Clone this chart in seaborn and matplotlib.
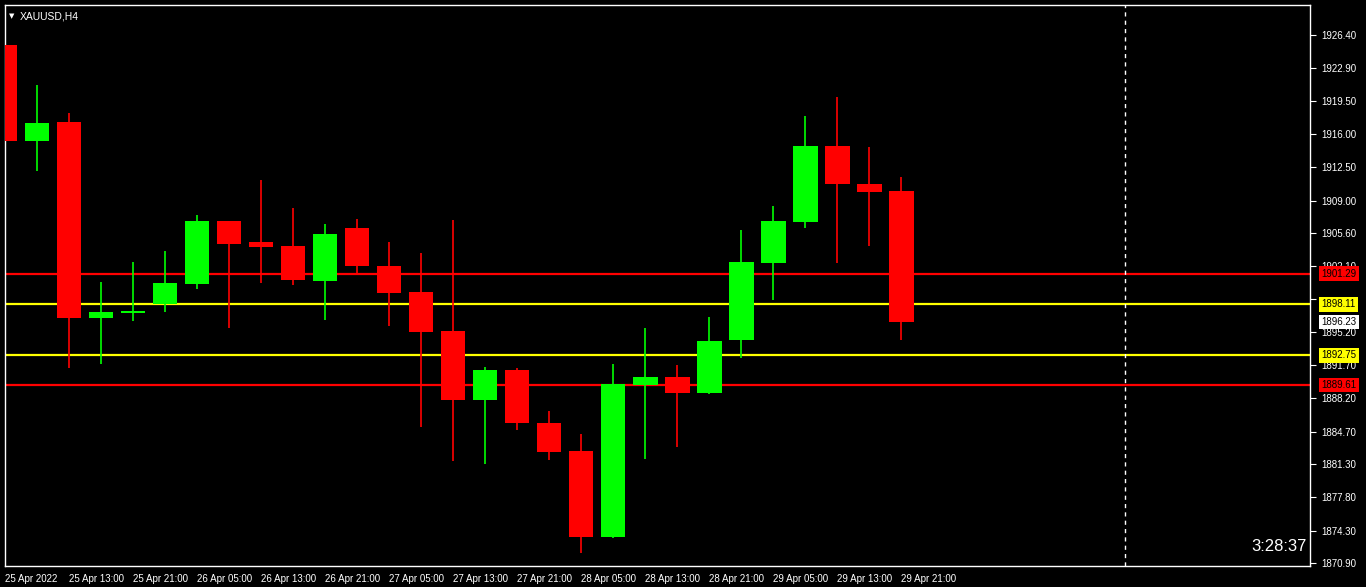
import seaborn as sns
import matplotlib
matplotlib.use("Agg")
import matplotlib.pyplot as plt
import matplotlib.transforms as mtransforms
import numpy as np

# XAUUSD H4 candles
opens  = [1925.35, 1915.29, 1917.26, 1896.69, 1897.18, 1898.13, 1900.26, 1906.85, 1904.64, 1904.22,
          1900.57, 1906.11, 1902.12, 1899.39, 1895.29, 1888.04, 1891.19, 1885.62, 1882.67, 1873.67,
          1889.61, 1890.45, 1888.80, 1894.37, 1902.47, 1906.78, 1914.73, 1910.74, 1910.00]
highs  = [1926.61, 1921.14, 1918.20, 1900.44, 1902.54, 1903.70, 1907.48, 1906.90, 1911.16, 1908.22,
          1906.53, 1907.06, 1904.64, 1903.49, 1906.95, 1891.50, 1891.40, 1886.88, 1884.46, 1891.82,
          1895.60, 1891.71, 1896.76, 1905.90, 1908.43, 1917.89, 1919.88, 1914.63, 1911.47]
lows   = [1913.08, 1912.14, 1891.43, 1891.85, 1896.37, 1897.29, 1899.73, 1895.64, 1900.37, 1900.15,
          1896.48, 1901.42, 1895.84, 1885.20, 1881.66, 1881.31, 1884.88, 1881.76, 1871.99, 1873.56,
          1881.87, 1883.13, 1888.70, 1892.48, 1898.58, 1906.15, 1902.47, 1904.25, 1894.37]
closes = [1915.29, 1917.15, 1896.69, 1897.29, 1897.39, 1900.33, 1906.85, 1904.46, 1904.15, 1900.68,
          1905.48, 1902.15, 1899.31, 1895.21, 1888.04, 1891.19, 1885.65, 1882.60, 1873.67, 1889.72,
          1890.45, 1888.77, 1894.24, 1902.54, 1906.85, 1914.73, 1910.77, 1909.93, 1896.23]

time_labels = ["25 Apr 2022", "25 Apr 13:00", "25 Apr 21:00", "26 Apr 05:00", "26 Apr 13:00",
               "26 Apr 21:00", "27 Apr 05:00", "27 Apr 13:00", "27 Apr 21:00", "28 Apr 05:00",
               "28 Apr 13:00", "28 Apr 21:00", "29 Apr 05:00", "29 Apr 13:00", "29 Apr 21:00"]
price_ticks = [1926.40, 1922.90, 1919.50, 1916.00, 1912.50, 1909.00, 1905.60, 1902.10, 1898.60,
               1895.20, 1891.70, 1888.20, 1884.70, 1881.30, 1877.80, 1874.30, 1870.90]

# horizontal levels (price, color)
level_prices = [1901.29, 1898.11, 1892.75, 1889.61]
level_colors = ["#ff0000", "#ffff00", "#ffff00", "#ff0000"]
bid_price = 1896.23
timer_text = "3:28:37"

sns.set_theme(style="dark", rc={
    "axes.facecolor": "black", "figure.facecolor": "black",
    "axes.edgecolor": "white", "text.color": "white",
    "xtick.color": "white", "ytick.color": "white",
})
plt.rcParams["font.family"] = ["Liberation Sans", "DejaVu Sans"]

fig = plt.figure(figsize=(13.66, 5.87), dpi=100)
ax = fig.add_axes([5 / 1366, 1 - 566 / 587, 1305 / 1366, 561 / 587])

idx = np.arange(len(opens))
o = np.array(opens); c = np.array(closes)
up = c >= o
colors = np.where(up, "#00ff00", "#ff0000")

# levels under the candles
for p, col in zip(level_prices, level_colors):
    ax.axhline(p, color=col, lw=1.6, zorder=1)

ax.vlines(idx, lows, highs, colors=colors, lw=1.2, zorder=2)
body_lo = np.minimum(o, c)
body_h = np.maximum(np.abs(c - o), 0.12)
ax.bar(idx, body_h, bottom=body_lo, width=0.78, color=colors, linewidth=0, zorder=3)

ax.axvline(35, color="white", lw=1, ls=(0, (3, 3)), zorder=1)

ax.set_xlim(0, 40.78)
ax.set_ylim(1870.59, 1929.55)
ax.grid(False)

# 1898.60 sits fully under the yellow box in the reference
ytick_text = ["" if abs(p - 1898.60) < 0.01 else f"{p:.2f}" for p in price_ticks]
ax.yaxis.tick_right()
ax.set_yticks(price_ticks)
ax.set_yticklabels(ytick_text, fontsize=7)
ax.tick_params(axis="y", direction="out", length=4, width=0.8, pad=4)

ax.set_xticks(np.arange(0, 2 * len(time_labels), 2))
ax.set_xticklabels(time_labels, fontsize=7, ha="left")
ax.tick_params(axis="x", direction="out", length=4, width=0.8, pad=2)

for s in ax.spines.values():
    s.set_color("white")
    s.set_linewidth(1)

# price boxes on the right scale
trans = mtransforms.blended_transform_factory(ax.transAxes, ax.transData)
boxes = list(zip(level_prices, level_colors)) + [(bid_price, "#ffffff")]
for p, col in boxes:
    ax.text(1.0085, p, f"{p:.2f}", transform=trans, fontsize=7, color="black",
            ha="left", va="center", clip_on=False, zorder=10,
            bbox=dict(boxstyle="square,pad=0.25", facecolor=col, edgecolor="none"))

ax.text(0.003, 0.985, "\u25bc", transform=ax.transAxes, fontsize=5, color="white",
        ha="left", va="top", family="DejaVu Sans")
ax.text(0.0115, 0.989, "XAUUSD,H4", transform=ax.transAxes, fontsize=7.5,
        color="white", ha="left", va="top")
ax.text(0.9975, 0.022, timer_text, transform=ax.transAxes, fontsize=12, color="white",
        ha="right", va="bottom")

fig.savefig("out.png", dpi=100, facecolor="black")
